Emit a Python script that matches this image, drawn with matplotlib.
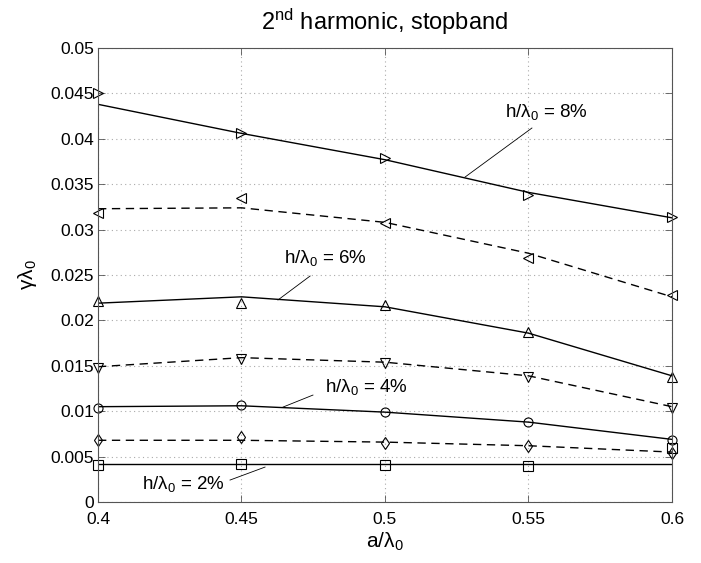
import matplotlib
matplotlib.use("Agg")
import matplotlib.pyplot as plt

plt.rcParams["font.family"] = ["Liberation Sans", "DejaVu Sans"]
plt.rcParams["mathtext.fontset"] = "custom"
plt.rcParams["mathtext.rm"] = "Liberation Sans"
plt.rcParams["mathtext.it"] = "Liberation Sans"
plt.rcParams["mathtext.default"] = "regular"

# a / lambda_0
x = [0.4, 0.45, 0.5, 0.55, 0.6]

# fitted curves (lines) and computed points (markers)
h8_fit = [0.0438, 0.0406, 0.0377, 0.0341, 0.0313]
h8_pts = [0.0450, 0.0406, 0.0379, 0.0338, 0.0314]
h7_fit = [0.0323, 0.0324, 0.0308, 0.0274, 0.0226]
h7_pts = [0.0318, 0.0335, 0.0307, 0.0269, 0.0228]
h6_fit = [0.0219, 0.0226, 0.0215, 0.0186, 0.0139]
h6_pts = [0.0221, 0.0219, 0.0217, 0.0187, 0.0138]
h5_fit = [0.0149, 0.0159, 0.0154, 0.0139, 0.0105]
h5_pts = [0.0148, 0.0157, 0.0153, 0.0138, 0.0104]
h4_fit = [0.0105, 0.0106, 0.0099, 0.0088, 0.0069]
h4_pts = [0.0104, 0.0107, 0.0099, 0.0088, 0.0068]
h3_fit = [0.0068, 0.0068, 0.0066, 0.0062, 0.0055]
h3_pts = [0.0068, 0.0072, 0.0065, 0.0062, 0.0054]
h2_fit = [0.0042, 0.0042, 0.0042, 0.0042, 0.0042]
h2_pts = [0.0041, 0.0042, 0.0041, 0.0040, 0.0060]

SERIES = [
    (h8_fit, h8_pts, "-", ">"),
    (h7_fit, h7_pts, "--", "<"),
    (h6_fit, h6_pts, "-", "^"),
    (h5_fit, h5_pts, "--", "v"),
    (h4_fit, h4_pts, "-", "o"),
    (h3_fit, h3_pts, "--", "d"),
    (h2_fit, h2_pts, "-", "s"),
]

# label text position, leader start, leader end (data coords)
LABELS = [
    ("h/$\\lambda_0$ = 8%", (0.5564, 0.04295), (0.5512, 0.04119), (0.5279, 0.03579)),
    ("h/$\\lambda_0$ = 6%", (0.4791, 0.02687), (0.4739, 0.02489), (0.4627, 0.02225)),
    ("h/$\\lambda_0$ = 4%", (0.4934, 0.01267), (0.4749, 0.01178), (0.4645, 0.01046)),
    ("h/$\\lambda_0$ = 2%", (0.4296, 0.00198), (0.4460, 0.00242), (0.4582, 0.00385)),
]

fig = plt.figure(figsize=(7.01, 5.63), dpi=100)
ax = fig.add_axes([0.1398, 0.1083, 0.8188, 0.8064])

for fit, pts, ls, mk in SERIES:
    ax.plot(x, fit, color="black", linestyle=ls, linewidth=1.0, dashes=(6, 4) if ls == "--" else (None, None))
    ax.plot(x, pts, linestyle="none", marker=mk, markersize=6.5, markerfacecolor="none",
            markeredgecolor="black", markeredgewidth=0.8, clip_on=False)

for text, tpos, p0, p1 in LABELS:
    ax.plot([p0[0], p1[0]], [p0[1], p1[1]], color="black", linewidth=0.6)
    ax.text(tpos[0], tpos[1], text, ha="center", va="center", fontsize=13.5)

ax.set_xlim(0.4, 0.6)
ax.set_ylim(0, 0.05)
ax.set_xticks([0.4, 0.45, 0.5, 0.55, 0.6])
ax.set_xticklabels(["0.4", "0.45", "0.5", "0.55", "0.6"])
yt = [0, 0.005, 0.01, 0.015, 0.02, 0.025, 0.03, 0.035, 0.04, 0.045, 0.05]
ax.set_yticks(yt)
ax.set_yticklabels(["0", "0.005", "0.01", "0.015", "0.02", "0.025", "0.03", "0.035", "0.04", "0.045", "0.05"])
ax.tick_params(direction="in", top=True, right=True, length=5, width=0.6, labelsize=12.5,
               color="#555555")
ax.tick_params(axis="x", pad=7)
ax.tick_params(axis="y", pad=3)
for s in ax.spines.values():
    s.set_color("#555555")
    s.set_linewidth(0.8)
ax.grid(True, linestyle=(0, (1, 3)), color="#aaaaaa", linewidth=0.8)

ax.set_xlabel("a/$\\lambda_0$", fontsize=15, labelpad=3)
ax.set_ylabel("$\\gamma\\lambda_0$", fontsize=15, labelpad=8)
ax.set_title("2$^{nd}$ harmonic, stopband", fontsize=17, pad=13)

fig.savefig("out.png", dpi=100)
